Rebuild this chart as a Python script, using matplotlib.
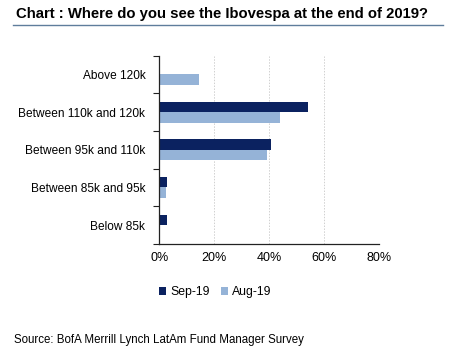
import matplotlib.pyplot as plt
import numpy as np
from matplotlib.ticker import FixedLocator

plt.rcParams['font.family'] = ['Liberation Sans', 'DejaVu Sans']

categories = ["Above 120k", "Between 110k and 120k", "Between 95k and 110k",
              "Between 85k and 95k", "Below 85k"]
sep19 = [0.0, 54.1, 40.5, 2.7, 2.7]
aug19 = [14.5, 43.9, 39.0, 2.3, 0.0]
xticks = [0, 20, 40, 60, 80]

sep_color = "#0b2260"
aug_color = "#95b3d7"

fig = plt.figure(figsize=(4.54, 3.51), dpi=100)
ax = fig.add_axes([159.3 / 454, 1 - 244 / 351, 220 / 454, (244 - 55.6) / 351])

y = np.arange(len(categories))
h = 0.28
ax.barh(y - h / 2, sep19, height=h, color=sep_color, label="Sep-19")
ax.barh(y + h / 2, aug19, height=h, color=aug_color, label="Aug-19")

ax.set_xlim(0, 80)
ax.set_ylim(len(categories) - 0.5, -0.5)
ax.set_xticks(xticks)
ax.set_xticklabels([f"{v}%" for v in xticks], fontsize=9)
ax.set_yticks(y)
ax.set_yticklabels(categories, fontsize=8.6)
ax.tick_params(axis='y', length=0, pad=10)
ax.yaxis.set_minor_locator(FixedLocator(np.arange(len(categories) + 1) - 0.5))
ax.tick_params(axis='y', which='minor', length=4, width=0.8, color="#222222")
ax.tick_params(axis='x', length=0, pad=6)
ax.grid(axis='x', linestyle=(0, (1.5, 1.5)), color="#d0d0d0", linewidth=0.7)
ax.set_axisbelow(True)
for s in ["top", "right"]:
    ax.spines[s].set_visible(False)
for s in ["left", "bottom"]:
    ax.spines[s].set_color("#222222")
    ax.spines[s].set_linewidth(0.9)

fig.text(16 / 454, 1 - 14 / 351, "Chart : Where do you see the Ibovespa at the end of 2019?",
         fontsize=10.7, fontweight='bold', va='center', ha='left')
fig.add_artist(plt.Line2D([13 / 454, 443 / 454], [1 - 25 / 351, 1 - 25 / 351],
                          color="#5f7d9c", linewidth=1))

handles, labels = ax.get_legend_handles_labels()
fig.legend(handles, labels, loc='center', bbox_to_anchor=(215 / 454, 1 - 292 / 351),
           ncol=2, frameon=False, fontsize=8.8, handlelength=0.6, handleheight=0.6,
           handletextpad=0.3, columnspacing=0.9)

fig.text(14 / 454, 1 - 340 / 351, "Source: BofA Merrill Lynch LatAm Fund Manager Survey",
         fontsize=8.3, va='center', ha='left')

fig.savefig("out.png", dpi=100)
